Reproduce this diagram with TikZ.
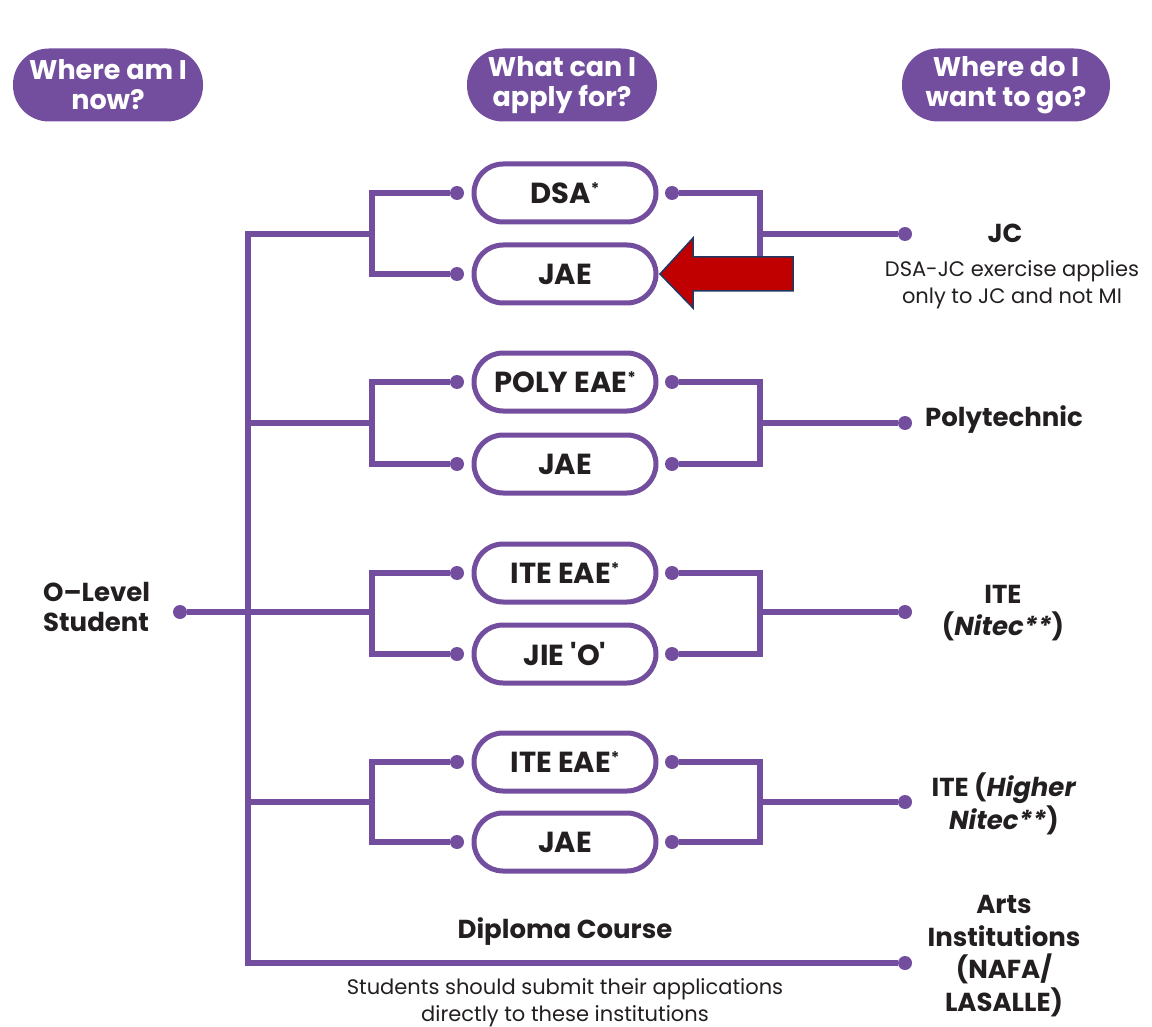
\documentclass[tikz,border=0pt]{standalone}
\usepackage{fontspec}
\setmainfont{Poppins}[Ligatures=TeXOff]
\definecolor{purp}{RGB}{115,78,158}
\definecolor{ink}{RGB}{35,31,32}
\definecolor{arrowred}{RGB}{192,0,0}
\definecolor{navy}{RGB}{31,56,100}
\newcommand{\supstar}{\raisebox{9pt}{\fontsize{16}{16}\selectfont*}}
\begin{document}
\begin{tikzpicture}[x=1pt,y=-1pt,
  header/.style={fill=purp, text=white, font=\fontsize{27}{30}\selectfont\bfseries, align=center,
    minimum width=190pt, minimum height=73pt, rounded corners=36pt, inner sep=0pt},
  optbox/.style={draw=purp, line width=5pt, fill=white, text=ink, font=\fontsize{29}{30}\selectfont\bfseries,
    minimum width=182pt, minimum height=58pt, rounded corners=29pt, inner sep=0pt},
  dotn/.style={circle, fill=purp, minimum size=14pt, inner sep=0pt},
  conn/.style={draw=purp, line width=6pt},
  dest/.style={text=ink, font=\fontsize{26}{32.5}\selectfont\bfseries, align=center, inner sep=0pt},
  note/.style={text=ink, font=\fontsize{21}{27}\selectfont, align=center, inner sep=0pt}
]
\useasboundingbox (0,0) rectangle (1152,1027);

% headers
\node[header] (h1) at (108,85) {Where am I\\now?};
\node[header] (h2) at (562,85) {What can I\\apply for?};
\node[header, minimum width=208pt] (h3) at (1006,85) {Where do I\\want to go?};

% option boxes
\node[optbox] (b1) at (565,193) {DSA\supstar};
\node[optbox] (b2) at (565,274) {JAE};
\node[optbox] (b3) at (565,382) {POLY EAE\supstar};
\node[optbox] (b4) at (565,464) {JAE};
\node[optbox] (b5) at (565,573) {ITE EAE\supstar};
\node[optbox] (b6) at (565,654) {JIE 'O'};
\node[optbox] (b7) at (565,762) {ITE EAE\supstar};
\node[optbox] (b8) at (565,842) {JAE};

% dots beside boxes
\foreach \i/\y in {1/193,2/274,3/382,4/464,5/573,6/654,7/762,8/842}{
  \node[dotn] (l\i) at (457,\y) {};
  \node[dotn] (r\i) at (672,\y) {};
}
% destination dots
\node[dotn] (e1) at (905,234) {};
\node[dotn] (e2) at (905,423) {};
\node[dotn] (e3) at (905,612) {};
\node[dotn] (e4) at (905,802) {};
\node[dotn] (e5) at (905,963) {};
\node[dotn] (o) at (180,612) {};

% junction coordinates
\coordinate (lj1) at (372,234);
\coordinate (lj2) at (372,423);
\coordinate (lj3) at (372,612);
\coordinate (lj4) at (372,802);
\coordinate (rj1) at (760,234);
\coordinate (rj2) at (760,423);
\coordinate (rj3) at (760,612);
\coordinate (rj4) at (760,802);
\coordinate (t1) at (248,234);
\coordinate (t2) at (248,423);
\coordinate (t4) at (248,802);
\coordinate (t5) at (248,963);

% left brackets
\draw[conn] (l1) -| (lj1) |- (l2);
\draw[conn] (l3) -| (lj2) |- (l4);
\draw[conn] (l5) -| (lj3) |- (l6);
\draw[conn] (l7) -| (lj4) |- (l8);
% right brackets
\draw[conn] (r1) -| (rj1) |- (r2);
\draw[conn] (r3) -| (rj2) |- (r4);
\draw[conn] (r5) -| (rj3) |- (r6);
\draw[conn] (r7) -| (rj4) |- (r8);
% trunk
\draw[conn, line cap=rect] (t1) -- (lj1);
\draw[conn] (t1) -- (t5) -- (e5);
\draw[conn] (t2) -- (lj2);
\draw[conn] (o) -- (lj3);
\draw[conn] (t4) -- (lj4);
% to destinations
\draw[conn] (rj1) -- (e1);
\draw[conn] (rj2) -- (e2);
\draw[conn] (rj3) -- (e3);
\draw[conn] (rj4) -- (e4);

% left label
\node[dest, align=left, anchor=west, font=\fontsize{26}{30}\selectfont\bfseries] (ol) at (43,607) {O–Level\\Student};

% destination labels
\node[dest] (d1) at (1005,233) {JC};
\node[note] (n1) at (1012,285) {DSA-JC exercise applies\\only to JC and not MI};
\node[dest] (d2) at (1004,420) {Polytechnic};
\node[dest] (d3) at (1003,613) {ITE\\(\textit{Nitec**})};
\node[dest] (d4) at (1004,804) {ITE (\textit{Higher}\\\textit{Nitec**})};
\node[dest] (d5) at (1004,956) {Arts\\Institutions\\(NAFA/\\LASALLE)};

% diploma labels
\node[dest] (dc) at (565,932) {Diploma Course};
\node[note] (sn) at (565,1003) {Students should submit their applications\\directly to these institutions};

% red arrow
\draw[fill=arrowred, draw=navy, line width=1.5pt, line join=miter]
  (660,274) -- (693,238) -- (693,257) -- (793,257) -- (793,291) -- (693,291) -- (693,308) -- cycle;
\end{tikzpicture}
\end{document}
